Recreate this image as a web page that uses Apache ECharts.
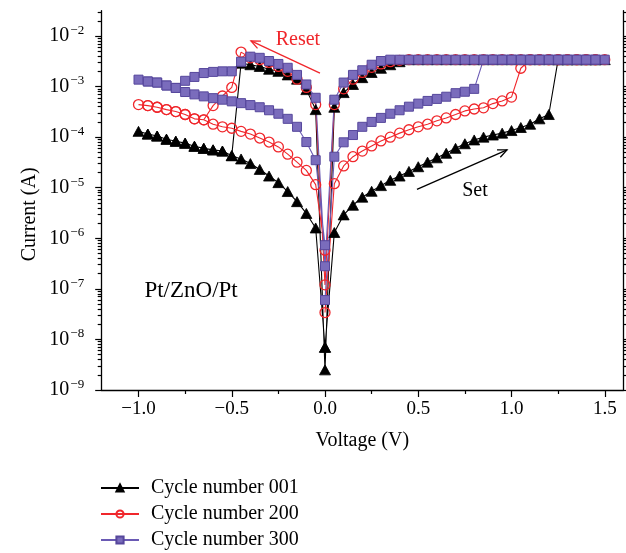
<!DOCTYPE html>
<html>
<head>
<meta charset="utf-8">
<script src="https://cdn.jsdelivr.net/npm/echarts@6.0.0/dist/echarts.min.js"></script>
<style>
html, body { margin: 0; padding: 0; background: #fff; }
#main { width: 626px; height: 553px; }
</style>
</head>
<body>
<div id="main"></div>
<script>
// voltage sweep steps (V), in measuring order
var vUp   = [0, 0.05, 0.1, 0.15, 0.2, 0.25, 0.3, 0.35, 0.4, 0.45, 0.5, 0.55, 0.6, 0.65, 0.7, 0.75, 0.8, 0.85, 0.9, 0.95, 1.0, 1.05, 1.1, 1.15, 1.2, 1.25, 1.3, 1.35, 1.4, 1.45, 1.5];
var vDown = [1.45, 1.4, 1.35, 1.3, 1.25, 1.2, 1.15, 1.1, 1.05, 1.0, 0.95, 0.9, 0.85, 0.8, 0.75, 0.7, 0.65, 0.6, 0.55, 0.5, 0.45, 0.4, 0.35, 0.3, 0.25, 0.2, 0.15, 0.1, 0.05, 0];
var vNeg  = [-0.05, -0.1, -0.15, -0.2, -0.25, -0.3, -0.35, -0.4, -0.45, -0.5, -0.55, -0.6, -0.65, -0.7, -0.75, -0.8, -0.85, -0.9, -0.95, -1.0];
var vBack = [-0.95, -0.9, -0.85, -0.8, -0.75, -0.7, -0.65, -0.6, -0.55, -0.5, -0.45, -0.4, -0.35, -0.3, -0.25, -0.2, -0.15, -0.1, -0.05, 0];

// currents (A), cycle 001
var i001Up   = [7e-9, 1.3e-6, 2.9e-6, 4.5e-6, 6.5e-6, 8.5e-6, 1.1e-5, 1.4e-5, 1.7e-5, 2.1e-5, 2.6e-5, 3.2e-5, 3.9e-5, 4.8e-5, 6.0e-5, 7.4e-5, 8.8e-5, 1.0e-4, 1.1e-4, 1.2e-4, 1.35e-4, 1.55e-4, 1.8e-4, 2.3e-4, 2.8e-4, 3.4e-3, 3.4e-3, 3.4e-3, 3.4e-3, 3.4e-3, 3.4e-3];
var i001Down = [3.4e-3, 3.4e-3, 3.4e-3, 3.4e-3, 3.4e-3, 3.4e-3, 3.4e-3, 3.4e-3, 3.4e-3, 3.4e-3, 3.4e-3, 3.4e-3, 3.4e-3, 3.4e-3, 3.4e-3, 3.4e-3, 3.4e-3, 3.4e-3, 3.4e-3, 3.4e-3, 3.4e-3, 3.1e-3, 2.7e-3, 2.3e-3, 1.9e-3, 1.5e-3, 1.1e-3, 7.6e-4, 3.9e-4, 2.5e-9];
var i001Neg  = [3.5e-4, 8.7e-4, 1.4e-3, 1.7e-3, 2.0e-3, 2.2e-3, 2.5e-3, 2.7e-3, 2.9e-3, 4.3e-5, 5.3e-5, 5.6e-5, 6.0e-5, 6.6e-5, 7.6e-5, 8.3e-5, 9.1e-5, 1.05e-4, 1.15e-4, 1.3e-4];
var i001Back = [1.15e-4, 1.05e-4, 9.1e-5, 8.3e-5, 7.6e-5, 6.6e-5, 6.0e-5, 5.6e-5, 5.3e-5, 4.3e-5, 3.7e-5, 3.0e-5, 2.3e-5, 1.7e-5, 1.26e-5, 8.4e-6, 5.3e-6, 3.1e-6, 1.6e-6, 7e-9];

// cycle 200
var i200Up   = [3.4e-8, 1.2e-5, 2.7e-5, 4.1e-5, 5.3e-5, 6.7e-5, 8.4e-5, 1.0e-4, 1.2e-4, 1.4e-4, 1.6e-4, 1.8e-4, 2.1e-4, 2.4e-4, 2.8e-4, 3.3e-4, 3.6e-4, 3.8e-4, 4.6e-4, 5.2e-4, 6.2e-4, 2.3e-3, 3.4e-3, 3.4e-3, 3.4e-3, 3.4e-3, 3.4e-3, 3.4e-3, 3.4e-3, 3.4e-3, 3.4e-3];
var i200Down = [3.4e-3, 3.4e-3, 3.4e-3, 3.4e-3, 3.4e-3, 3.4e-3, 3.4e-3, 3.4e-3, 3.4e-3, 3.4e-3, 3.4e-3, 3.4e-3, 3.4e-3, 3.4e-3, 3.4e-3, 3.4e-3, 3.4e-3, 3.4e-3, 3.4e-3, 3.4e-3, 3.4e-3, 3.3e-3, 3.1e-3, 2.8e-3, 2.4e-3, 1.9e-3, 1.4e-3, 9.0e-4, 4.4e-4, 1.2e-7];
var i200Neg  = [4.4e-4, 9.6e-4, 1.4e-3, 2.0e-3, 2.5e-3, 3.0e-3, 3.4e-3, 3.7e-3, 4.8e-3, 9.6e-4, 6.5e-4, 4.2e-4, 2.2e-4, 2.3e-4, 2.8e-4, 3.2e-4, 3.5e-4, 3.9e-4, 4.2e-4, 4.4e-4];
var i200Back = [4.2e-4, 3.9e-4, 3.5e-4, 3.2e-4, 2.8e-4, 2.3e-4, 2.2e-4, 1.8e-4, 1.6e-4, 1.5e-4, 1.3e-4, 1.15e-4, 9.6e-5, 8.0e-5, 6.4e-5, 4.6e-5, 3.2e-5, 2.2e-5, 1.15e-5, 5.8e-7];

// cycle 300
var i300Up   = [6e-8, 4.1e-5, 7.9e-5, 1.1e-4, 1.6e-4, 2.0e-4, 2.4e-4, 2.9e-4, 3.4e-4, 4.0e-4, 4.6e-4, 5.2e-4, 5.7e-4, 6.3e-4, 7.4e-4, 7.9e-4, 9.0e-4, 3.4e-3, 3.4e-3, 3.4e-3, 3.4e-3, 3.4e-3, 3.4e-3, 3.4e-3, 3.4e-3, 3.4e-3, 3.4e-3, 3.4e-3, 3.4e-3, 3.4e-3, 3.4e-3];
var i300Down = [3.4e-3, 3.4e-3, 3.4e-3, 3.4e-3, 3.4e-3, 3.4e-3, 3.4e-3, 3.4e-3, 3.4e-3, 3.4e-3, 3.4e-3, 3.4e-3, 3.4e-3, 3.4e-3, 3.4e-3, 3.4e-3, 3.4e-3, 3.4e-3, 3.4e-3, 3.4e-3, 3.4e-3, 3.4e-3, 3.4e-3, 3.2e-3, 2.7e-3, 2.1e-3, 1.7e-3, 1.2e-3, 5.5e-4, 2.8e-7];
var i300Neg  = [6.0e-4, 1.1e-3, 1.7e-3, 2.35e-3, 2.8e-3, 3.2e-3, 3.7e-3, 3.9e-3, 3.1e-3, 2.0e-3, 2.0e-3, 1.95e-3, 1.85e-3, 1.55e-3, 1.3e-3, 9.4e-4, 1.05e-3, 1.2e-3, 1.26e-3, 1.37e-3];
var i300Back = [1.26e-3, 1.2e-3, 1.05e-3, 9.4e-4, 7.8e-4, 7.0e-4, 6.4e-4, 5.9e-4, 5.5e-4, 5.1e-4, 4.7e-4, 4.3e-4, 3.9e-4, 3.4e-4, 2.9e-4, 2.3e-4, 1.6e-4, 8.0e-5, 3.5e-5, 7.3e-7];

var seriesNames = ['Cycle number 001', 'Cycle number 200', 'Cycle number 300'];
var xMajor = [-1.0, -0.5, 0, 0.5, 1.0, 1.5];
var xMinor = [-0.75, -0.25, 0.25, 0.75, 1.25];
var yDecades = [-9, -8, -7, -6, -5, -4, -3, -2];

var serif = "'Liberation Serif', 'DejaVu Serif', serif";
var red = '#f0262b';
var purple = '#6a5ab4';

function loop(up, down, neg, back) {
  var out = [];
  var parts = [[vUp, up], [vDown, down], [vNeg, neg], [vBack, back]];
  parts.forEach(function (p) {
    for (var k = 0; k < p[0].length; k++) out.push([p[0][k], p[1][k]]);
  });
  return out;
}

// log-spaced minor ticks (2..9 within each decade), in log10 units
var yMinor = [];
yDecades.forEach(function (d) {
  for (var k = 2; k <= 9; k++) {
    var v = d + Math.log10(k);
    if (v <= -1.5) yMinor.push(v);
  }
});

var tickLine = { color: '#000', width: 1.2 };

function tickAxis(pos, ticks, len, withLine, withLabel) {
  return {
    type: 'value', min: -9, max: -1.5, position: pos,
    axisLine: { show: withLine, onZero: false, lineStyle: { color: '#000', width: 1.3 } },
    axisTick: { show: true, length: len, customValues: ticks, lineStyle: tickLine },
    axisLabel: withLabel ? {
      customValues: yDecades, margin: 17,
      formatter: function (v) { return '{b|10}{s|\u2212' + Math.round(-v) + '}'; },
      rich: {
        b: { fontSize: 20, fontFamily: serif, color: '#000', lineHeight: 24 },
        s: { fontSize: 13, fontFamily: serif, color: '#000', lineHeight: 13, verticalAlign: 'top', padding: [0, 0, 0, 1] }
      }
    } : { show: false },
    splitLine: { show: false }
  };
}

var chart = echarts.init(document.getElementById('main'));

var option = {
  animation: false,
  backgroundColor: '#fff',
  textStyle: { fontFamily: serif },
  grid: { left: 101.2, top: 10.7, width: 522.2, height: 379.3, outerBoundsMode: 'none' },
  legend: {
    data: seriesNames,
    orient: 'vertical',
    left: 100, top: 478, padding: 0,
    itemWidth: 38, itemHeight: 9, itemGap: 6,
    textStyle: { fontFamily: serif, fontSize: 20, color: '#000', lineHeight: 20, padding: [0, 0, 0, 7] }
  },
  xAxis: [{
    type: 'value', min: -1.2, max: 1.6, position: 'bottom',
    name: 'Voltage (V)', nameLocation: 'middle', nameGap: 41,
    nameTextStyle: { fontFamily: serif, fontSize: 20, color: '#000' },
    axisLine: { onZero: false, lineStyle: { color: '#000', width: 1.3 } },
    axisTick: { length: 7, customValues: xMajor, lineStyle: tickLine },
    axisLabel: {
      customValues: xMajor, margin: 10, fontSize: 19, fontFamily: serif, color: '#000',
      formatter: function (v) { return v.toFixed(1).replace('-', '\u2212'); }
    },
    splitLine: { show: false }
  }, {
    type: 'value', min: -1.2, max: 1.6, position: 'bottom',
    axisLine: { show: false, onZero: false },
    axisTick: { length: 4, customValues: xMinor, lineStyle: tickLine },
    axisLabel: { show: false },
    splitLine: { show: false }
  }],
  yAxis: [{
    type: 'log', min: 1e-9, max: Math.pow(10, -1.5), position: 'left',
    name: 'Current (A)', nameLocation: 'middle', nameGap: 61,
    nameTextStyle: { fontFamily: serif, fontSize: 20, color: '#000', padding: [0, 28, 0, 0] },
    axisLine: { show: true, onZero: false, lineStyle: { color: '#000', width: 1.3 } },
    axisTick: { show: false },
    axisLabel: { show: false },
    splitLine: { show: false }
  },
    tickAxis('left', yDecades, 6, false, true),
    tickAxis('left', yMinor, 3.5, false, false),
    tickAxis('right', yDecades, 6, true, false),
    tickAxis('right', yMinor, 3.5, false, false)
  ],
  series: [{
    name: seriesNames[0], type: 'line', xAxisIndex: 0, yAxisIndex: 0,
    data: loop(i001Up, i001Down, i001Neg, i001Back),
    symbol: 'triangle', symbolSize: [11, 10],
    lineStyle: { color: '#000', width: 1.1 },
    itemStyle: { color: '#000', borderColor: '#000', borderWidth: 0.8 }
  }, {
    name: seriesNames[1], type: 'line', xAxisIndex: 0, yAxisIndex: 0,
    data: loop(i200Up, i200Down, i200Neg, i200Back),
    symbol: 'circle', symbolSize: 10,
    lineStyle: { color: red, width: 1.1 },
    itemStyle: { color: 'rgba(255,255,255,0)', borderColor: red, borderWidth: 1.3 }
  }, {
    name: seriesNames[2], type: 'line', xAxisIndex: 0, yAxisIndex: 0,
    data: loop(i300Up, i300Down, i300Neg, i300Back),
    symbol: 'rect', symbolSize: 9,
    lineStyle: { color: purple, width: 1.1 },
    itemStyle: { color: '#7a6cbc', borderColor: '#56479c', borderWidth: 1 }
  }]
};

chart.setOption(option);

// annotations placed in data coordinates
function px(p) { return chart.convertToPixel({ xAxisIndex: 0, yAxisIndex: 0 }, p); }
function arrow(from, to, color) {
  var a = px(from), b = px(to);
  var ang = Math.atan2(a[1] - b[1], a[0] - b[0]);
  var L = 10, s = 0.42;
  return [{
    type: 'line', shape: { x1: a[0], y1: a[1], x2: b[0], y2: b[1] },
    style: { stroke: color, lineWidth: 1.3 }
  }, {
    type: 'polyline',
    shape: { points: [[b[0] + L * Math.cos(ang + s), b[1] + L * Math.sin(ang + s)], [b[0], b[1]], [b[0] + L * Math.cos(ang - s), b[1] + L * Math.sin(ang - s)]] },
    style: { stroke: color, fill: null, lineWidth: 1.3 }
  }];
}
function label(text, at, color, size) {
  var p = px(at);
  return {
    type: 'text', x: p[0], y: p[1],
    style: { text: text, fill: color, fontSize: size, fontFamily: serif, align: 'center', verticalAlign: 'middle' }
  };
}

var graphics = []
  .concat(arrow([-0.027, 1.85e-3], [-0.397, 8.0e-3], red))
  .concat(arrow([0.493, 9.3e-6], [0.976, 5.6e-5], '#000'))
  .concat([
    label('Reset', [-0.145, 8.3e-3], red, 20),
    label('Set', [0.804, 8.9e-6], '#000', 20),
    label('Pt/ZnO/Pt', [-0.718, 9.1e-8], '#000', 23)
  ]);
chart.setOption({ graphic: graphics });
</script>
</body>
</html>
